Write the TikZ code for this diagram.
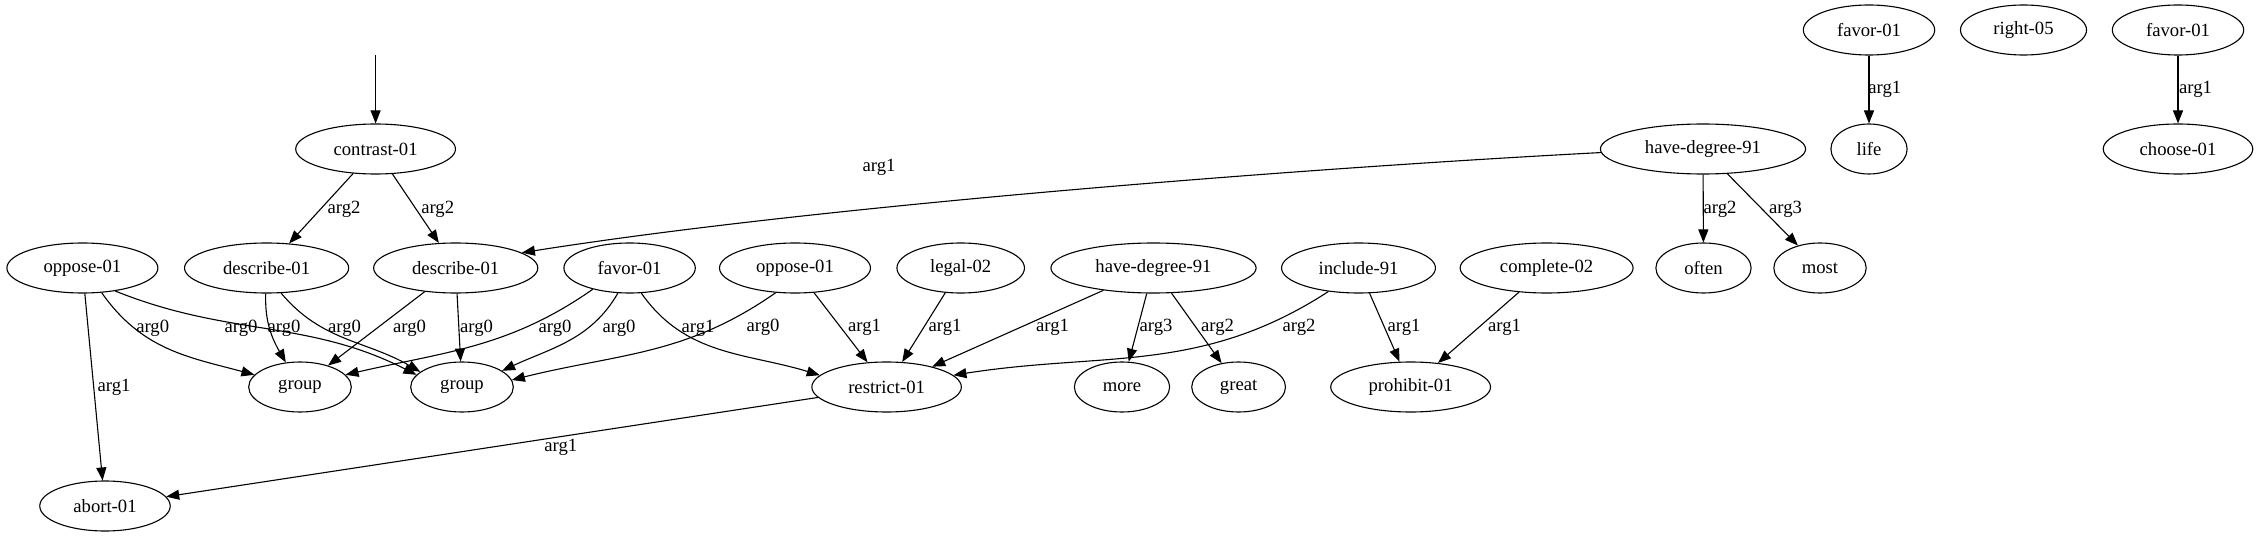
\documentclass[tikz,border=0pt]{standalone}
\usepackage{fontspec}
\setmainfont{Liberation Serif}
\usetikzlibrary{arrows.meta,shapes.geometric}

\begin{document}
\begin{tikzpicture}[x=1pt,y=1pt,
  amr/.style={ellipse, draw, line width=1.1pt, inner xsep=14.5pt, inner ysep=3pt,
    minimum height=50pt, font=\fontsize{18.67}{22}\selectfont},
  rel/.style={draw, line width=1.1pt, -{Triangle[length=13pt,width=10pt]}},
  lbl/.style={font=\fontsize{18.67}{22}\selectfont, inner sep=0pt}]
\useasboundingbox (0,0) rectangle (2259,-537);

% top rank
\coordinate (top) at (375.6,-55);
\node[amr] (favorA) at (1869,-30) {favor-01};
\node[amr] (rightN) at (2023.5,-30) {right-05};
\node[amr] (favorB) at (2178,-30) {favor-01};

% second rank
\node[amr] (contrast) at (375.6,-149) {contrast-01};
\node[amr] (degreeB) at (1703,-149) {have-degree-91};
\node[amr] (life) at (1869,-149) {life};
\node[amr] (chooseN) at (2178,-149) {choose-01};

% third rank
\node[amr] (opposeA) at (82.4,-268) {oppose-01};
\node[amr] (describeA) at (266.6,-268) {describe-01};
\node[amr] (describeB) at (455.7,-268) {describe-01};
\node[amr] (favorC) at (629.6,-268) {favor-01};
\node[amr] (opposeB) at (795,-268) {oppose-01};
\node[amr] (legal) at (960.7,-268) {legal-02};
\node[amr] (degreeA) at (1153.5,-268) {have-degree-91};
\node[amr] (include) at (1358.5,-268) {include-91};
\node[amr] (complete) at (1546.6,-268) {complete-02};
\node[amr] (often) at (1703.5,-268) {often};
\node[amr] (most) at (1820,-268) {most};

% fourth rank
\node[amr] (groupA) at (300,-387) {group};
\node[amr] (groupB) at (462,-387) {group};
\node[amr] (restrict) at (886.6,-387) {restrict-01};
\node[amr] (more) at (1122,-387) {more};
\node[amr] (great) at (1238.6,-387) {great};
\node[amr] (prohibit) at (1410.6,-387) {prohibit-01};

% bottom rank
\node[amr] (abort) at (105,-506) {abort-01};

% relations
\draw[rel] (top) -- (contrast);
\draw[rel] (contrast) -- (describeA) node[lbl] at (344,-209) {arg2};
\draw[rel] (contrast) -- (describeB) node[lbl] at (437.7,-209) {arg2};
\draw[rel] (degreeB.182) .. controls +(183:300) and +(9:300) .. (describeB.13)
  node[lbl] at (879,-167) {arg1};
\draw[rel] (degreeB) -- (often) node[lbl] at (1720,-209) {arg2};
\draw[rel] (degreeB) -- (most) node[lbl] at (1785.6,-209) {arg3};
\draw[rel] (favorA) -- (life) node[lbl] at (1884.8,-89) {arg1};
\draw[rel] (favorB) -- (chooseN) node[lbl] at (2195.6,-89) {arg1};

\draw[rel] (opposeA.-52) .. controls +(-55:70) and +(165:68) .. (groupA.165)
  node[lbl] at (152.7,-328) {arg0};
\draw[rel] (opposeA.-35) .. controls +(-22:122) and +(153:122) .. (groupB.165)
  node[lbl] at (241,-328) {arg0};
\draw[rel] (opposeA) -- (abort) node[lbl] at (114,-387) {arg1};
\draw[rel] (describeA.-92) .. controls +(-92:28) and +(120:28) .. (groupA.120)
  node[lbl] at (284,-328) {arg0};
\draw[rel] (describeA.-60) .. controls +(-50:63) and +(150:63) .. (groupB.160)
  node[lbl] at (344.6,-328) {arg0};
\draw[rel] (describeB) -- (groupA) node[lbl] at (409.6,-328) {arg0};
\draw[rel] (describeB) -- (groupB) node[lbl] at (476.5,-328) {arg0};
\draw[rel] (favorC.-150) .. controls +(-145:102) and +(13:102) .. (groupA.15)
  node[lbl] at (555,-328) {arg0};
\draw[rel] (favorC.-115) .. controls +(-120:54) and +(25:54) .. (groupB.22)
  node[lbl] at (619,-328) {arg0};
\draw[rel] (favorC.-65) .. controls +(-55:77) and +(163:77) .. (restrict.170)
  node[lbl] at (698,-328) {arg1};
\draw[rel] (opposeB.-128) .. controls +(-145:110) and +(14:110) .. (groupB.8)
  node[lbl] at (763,-327) {arg0};
\draw[rel] (opposeB) -- (restrict) node[lbl] at (864.6,-327) {arg1};
\draw[rel] (legal) -- (restrict) node[lbl] at (945,-327) {arg1};
\draw[rel] (degreeA) -- (restrict) node[lbl] at (1052.6,-327) {arg1};
\draw[rel] (degreeA) -- (more) node[lbl] at (1156,-327) {arg3};
\draw[rel] (degreeA) -- (great) node[lbl] at (1217.5,-327) {arg2};
\draw[rel] (include.-142) .. controls +(-147:152) and +(9:152) .. (restrict.10)
  node[lbl] at (1299,-327) {arg2};
\draw[rel] (include) -- (prohibit) node[lbl] at (1404,-327) {arg1};
\draw[rel] (complete) -- (prohibit) node[lbl] at (1504.5,-327) {arg1};
\draw[rel] (restrict) -- (abort) node[lbl] at (560.8,-447) {arg1};
\end{tikzpicture}
\end{document}
